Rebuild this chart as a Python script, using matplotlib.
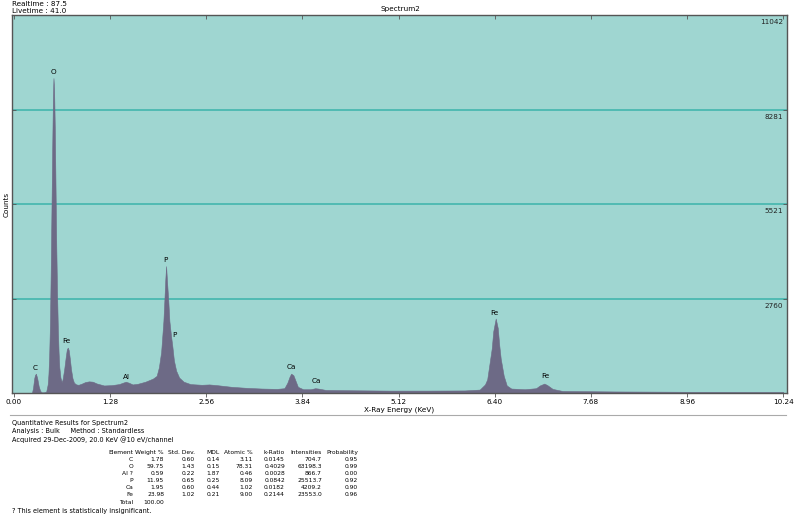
import matplotlib
matplotlib.use("Agg")
import matplotlib.pyplot as plt
import matplotlib.lines as mlines
import matplotlib.transforms as mtransforms

# ---------- data ----------
energy = [0.00, 0.24, 0.255, 0.27, 0.28, 0.293, 0.31, 0.33, 0.35, 0.37, 0.40, 0.43,
          0.45, 0.46, 0.47, 0.48, 0.49, 0.50, 0.51, 0.52, 0.527, 0.535, 0.545, 0.555,
          0.565, 0.575, 0.585, 0.595, 0.605, 0.62, 0.638, 0.65, 0.67, 0.69, 0.705,
          0.718, 0.73, 0.745, 0.76, 0.78, 0.80, 0.83, 0.86, 0.90, 0.95, 1.00, 1.05,
          1.10, 1.15, 1.20, 1.30, 1.40, 1.45, 1.49, 1.53, 1.58, 1.65, 1.75, 1.85,
          1.90, 1.93, 1.96, 1.99, 2.005, 2.015, 2.026, 2.04, 2.055, 2.07, 2.09, 2.11,
          2.13, 2.16, 2.20, 2.26, 2.35, 2.50, 2.60, 2.70, 2.90, 3.10, 3.30, 3.50,
          3.60, 3.64, 3.67, 3.69, 3.72, 3.75, 3.78, 3.85, 3.95, 4.01, 4.05, 4.15,
          4.50, 5.00, 5.50, 6.00, 6.20, 6.27, 6.30, 6.34, 6.36, 6.38, 6.413, 6.44,
          6.46, 6.48, 6.52, 6.56, 6.62, 6.80, 6.95, 7.00, 7.06, 7.10, 7.17, 7.30,
          8.00, 9.00, 10.24]
counts = [0, 0, 150, 420, 520, 565, 440, 200, 60, 20, 20, 40,
          250, 550, 1100, 2000, 3500, 5300, 7100, 8700, 9200, 8900, 7700, 5900,
          4200, 2900, 1900, 1200, 750, 450, 310, 420, 700, 1050, 1280,
          1326, 1250, 1000, 700, 430, 300, 250, 240, 270, 320, 340, 330,
          280, 250, 220, 230, 260, 300, 330, 300, 250, 270, 330, 420,
          500, 750, 1200, 2100, 2800, 3300, 3706, 3200, 2700, 2100, 1700, 1350,
          950, 650, 450, 330, 260, 240, 250, 230, 180, 150, 130, 120,
          140, 300, 480, 565, 520, 350, 180, 110, 110, 140, 130, 90,
          80, 70, 70, 75, 100, 250, 400, 1000, 1300, 1800, 2175, 1900,
          1400, 1000, 500, 220, 130, 110, 140, 220, 275, 230, 120, 60,
          45, 35, 30]

peak_names = ["O", "C", "Fe", "Al", "P", "P", "Ca", "Ca", "Fe", "Fe"]
peak_x = [0.527, 0.283, 0.696, 1.494, 2.013, 2.133, 3.69, 4.02, 6.39, 7.07]
peak_y = [9384, 720, 1510, 457, 3881, 1686, 750, 340, 2330, 486]

xticks = [0.00, 1.28, 2.56, 3.84, 5.12, 6.40, 7.68, 8.96, 10.24]
ylevels = [2760, 5521, 8281, 11042]

# quantitative results table
elements = ["C", "O", "Al ?", "P", "Ca", "Fe"]
weight = ["1.78", "59.75", "0.59", "11.95", "1.95", "23.98"]
std_dev = ["0.60", "1.43", "0.22", "0.65", "0.60", "1.02"]
mdl = ["0.14", "0.15", "1.87", "0.25", "0.44", "0.21"]
atomic = ["3.11", "78.31", "0.46", "8.09", "1.02", "9.00"]
k_ratio = ["0.0145", "0.4029", "0.0028", "0.0842", "0.0182", "0.2144"]
intens = ["704.7", "63198.3", "866.7", "25513.7", "4209.2", "23553.0"]
prob = ["0.95", "0.99", "0.00", "0.92", "0.90", "0.96"]

BG = "#9fd6d1"
GRID = "#3bb3aa"
FILL = "#6d6a86"
SPINE = "#555555"
FS = 5.2
TFS = 4.3  # table font

fig = plt.figure(figsize=(8, 5.2), dpi=100)
W, H = 800.0, 520.0


def fx(px):
    return px / W


def fy(py):
    return 1 - py / H


ax = fig.add_axes([fx(12), fy(393), fx(787) - fx(12), fy(15) - fy(393)])
ax.set_facecolor(BG)
ax.set_xlim(-0.025, 10.29)
ax.set_ylim(0, 11042)

for lv in ylevels[:-1]:
    ax.axhline(lv, color=GRID, linewidth=1.1, zorder=1)

ax.fill_between(energy, counts, 0, color=FILL, linewidth=0.4, edgecolor=FILL, zorder=2)

for name, x, y in zip(peak_names, peak_x, peak_y):
    ax.text(x, y, name, ha="center", va="center", fontsize=FS, color="black", zorder=3)

# right-hand count labels, inside the plot just under each level
trans = mtransforms.blended_transform_factory(ax.transAxes, ax.transData)
for lv in ylevels:
    ax.text(0.995, lv - 120, str(lv), transform=trans, ha="right", va="top",
            fontsize=FS, color="#222222")

ax.set_xticks(xticks)
ax.set_xticklabels(["%.2f" % t for t in xticks], fontsize=FS)
ax.set_yticks(ylevels[:-1])
ax.set_yticklabels([])
ax.tick_params(axis="x", direction="out", length=3, width=0.6, pad=1.5,
               colors=SPINE, labelcolor="black", top=True)
ax.tick_params(axis="y", direction="in", length=3, width=0.6, colors=SPINE,
               right=True)
# top ticks point into the plot
for tick in ax.xaxis.get_major_ticks():
    tick.tick2line.set_marker(mlines.TICKDOWN)

ax.set_ylabel("Counts", fontsize=FS)
ax.yaxis.set_label_coords(-0.003, 0.5)
ax.set_xlabel("X-Ray Energy (KeV)", fontsize=FS, labelpad=1)
for side, sp in ax.spines.items():
    sp.set_color(SPINE)
    sp.set_linewidth(1.0)

# header text
fig.text(fx(12), fy(4), "Realtime : 87.5", fontsize=FS, va="center")
fig.text(fx(12), fy(11), "Livetime : 41.0", fontsize=FS, va="center")
fig.text(0.5, fy(9), "Spectrum2", fontsize=FS, ha="center", va="center")

# separator line below the chart
fig.add_artist(plt.Line2D([fx(10), fx(786)], [fy(415), fy(415)],
                          color="#aaaaaa", linewidth=0.8))

# results text block (baseline-aligned)
fig.text(fx(12), fy(425), "Quantitative Results for Spectrum2", fontsize=TFS + 0.4,
         va="baseline")
fig.text(fx(12), fy(433.5), "Analysis : Bulk     Method : Standardless",
         fontsize=TFS + 0.4, va="baseline")
fig.text(fx(12), fy(442), "Acquired 29-Dec-2009, 20.0 KeV @10 eV/channel",
         fontsize=TFS + 0.4, va="baseline")

cols = [
    ("Element", elements, 133),
    ("Weight %", weight, 164),
    ("Std. Dev.", std_dev, 195),
    ("MDL", mdl, 220),
    ("Atomic %", atomic, 253),
    ("k-Ratio", k_ratio, 285),
    ("Intensities", intens, 322),
    ("Probability", prob, 358),
]
row_y0 = 454
row_step = 7
for head, vals, xr in cols:
    fig.text(fx(xr), fy(row_y0), head, fontsize=TFS, ha="right", va="baseline")
    for i, v in enumerate(vals):
        fig.text(fx(xr), fy(row_y0 + row_step * (i + 1)), v, fontsize=TFS,
                 ha="right", va="baseline")
total_y = row_y0 + row_step * (len(elements) + 1) + 1
fig.text(fx(133), fy(total_y), "Total", fontsize=TFS, ha="right", va="baseline")
fig.text(fx(164), fy(total_y), "100.00", fontsize=TFS, ha="right", va="baseline")
fig.text(fx(12), fy(513), "? This element is statistically insignificant.",
         fontsize=TFS + 0.4, va="baseline")

fig.savefig("out.png", dpi=100)
